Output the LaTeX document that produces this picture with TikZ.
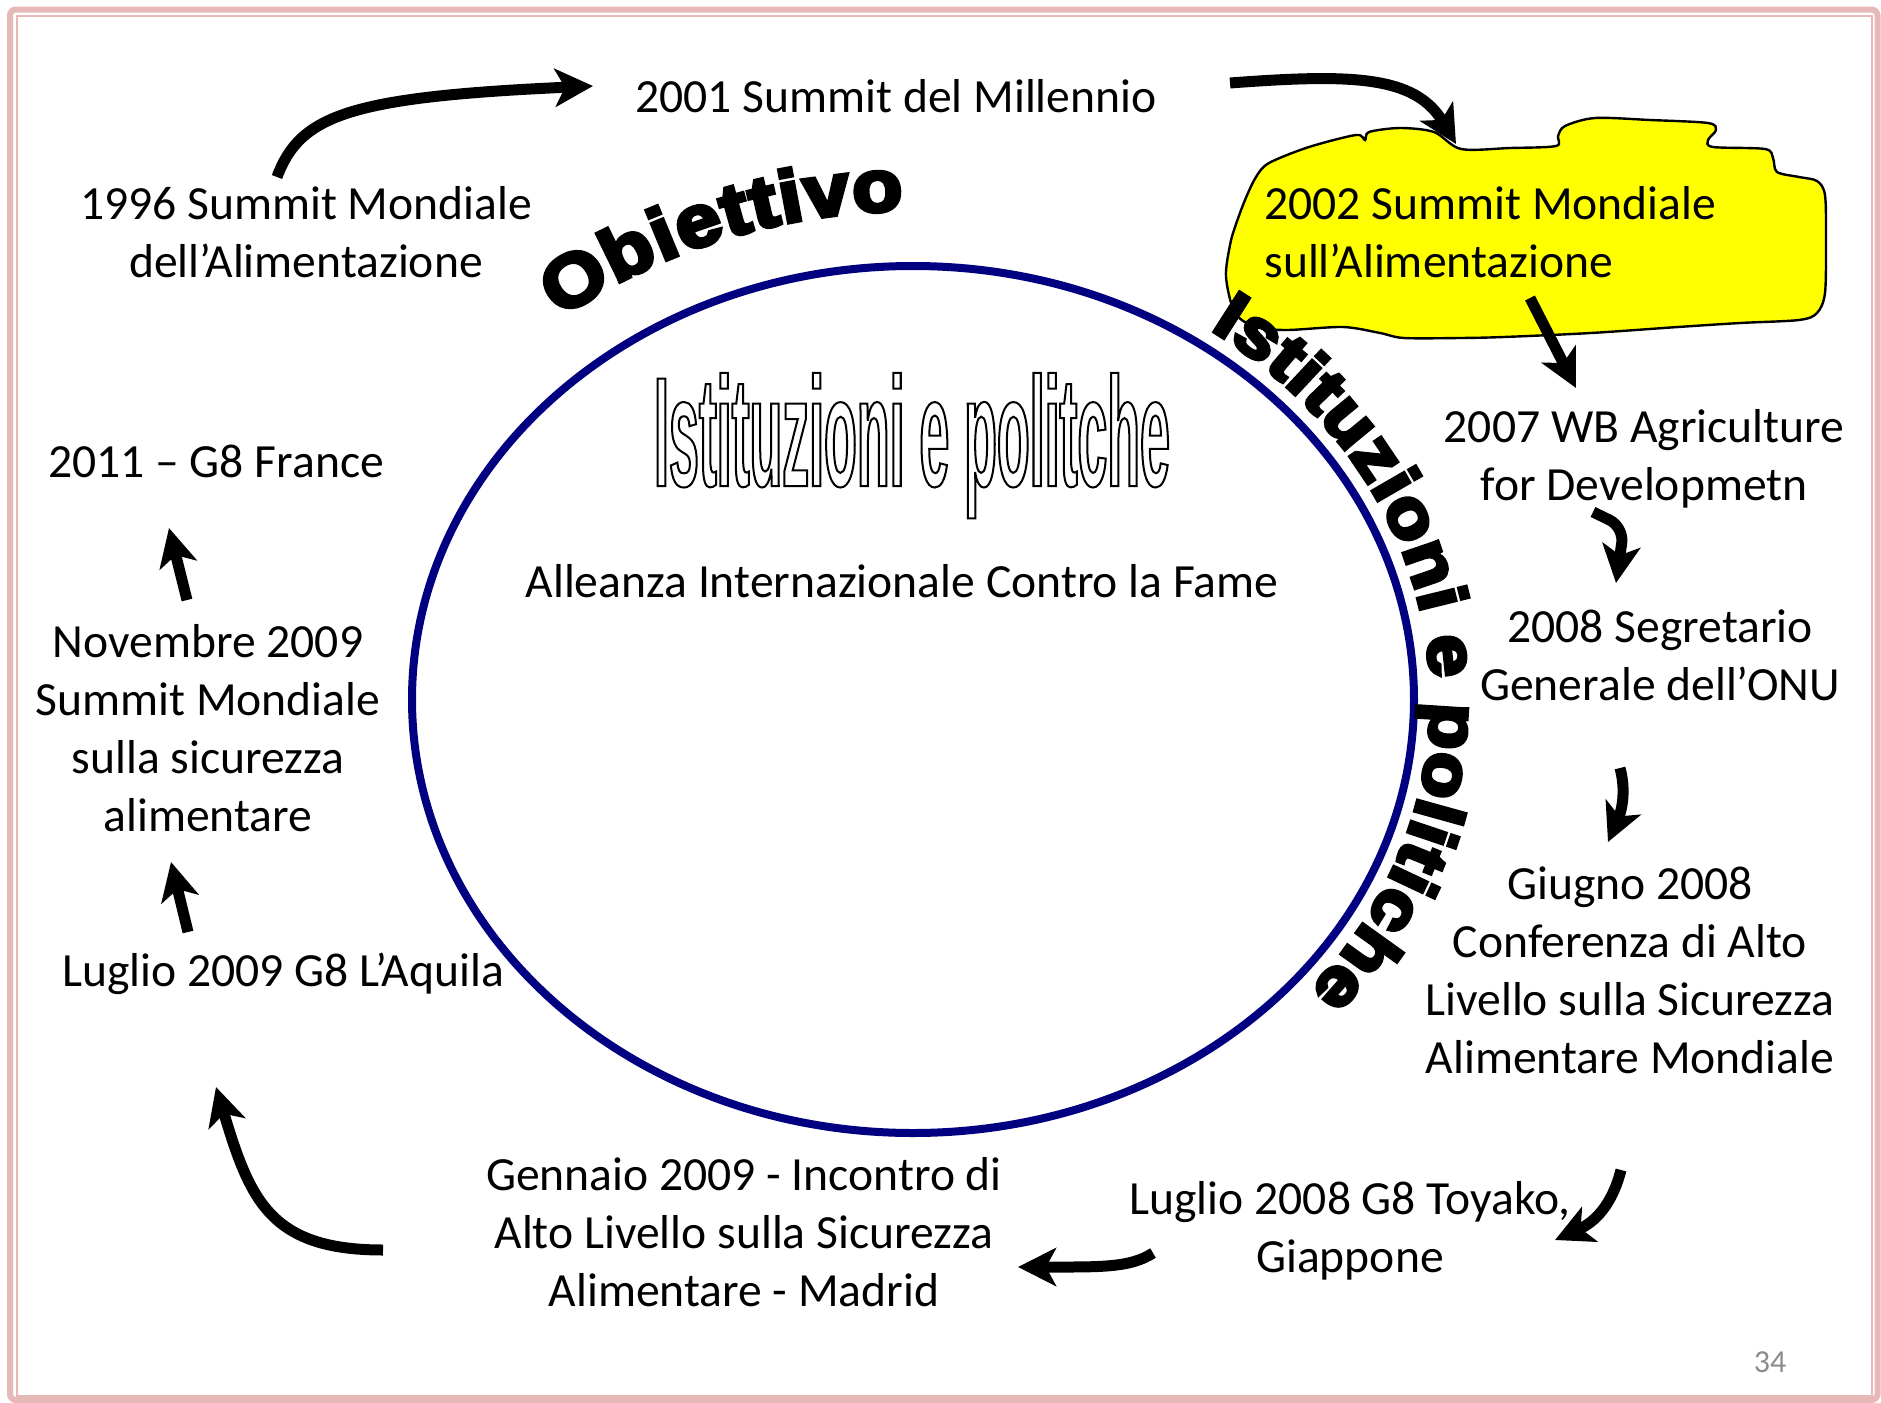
\documentclass[tikz,border=0pt]{standalone}
\usepackage{fontspec}
\setmainfont{Carlito}
\newfontfamily\curvefont{Liberation Sans}[FakeStretch=1.12, BoldFeatures={FakeBold=6}]
\newfontfamily\titlefont{Liberation Sans}[FakeStretch=0.344]
\usetikzlibrary{arrows.meta,decorations.text}
\definecolor{pinkb}{RGB}{230,185,184}
\definecolor{navyb}{RGB}{0,0,128}
\definecolor{pagegray}{RGB}{140,140,140}
\definecolor{cloudyellow}{RGB}{255,255,0}
\newcommand\outlinetext[1]{\special{pdf:literal direct 1 Tr 1 w}#1\special{pdf:literal direct 0 Tr 0.4 w}}
\begin{document}
\begin{tikzpicture}[x=0.5pt,y=-0.5pt,
  lbl/.style={font=\fontsize{23.8}{29}\selectfont, align=center, inner sep=0pt},
  bigarrow/.style={line width=5.5pt, -{Stealth[length=19pt,width=19pt,inset=5pt]}},
  bentarrow/.style={bigarrow, rounded corners=8pt},
  frameouter/.style={draw=pinkb, line width=3pt, rounded corners=3pt},
  frameinner/.style={draw=pinkb, line width=1pt},
  ring/.style={draw=navyb, line width=4pt},
  cloud/.style={draw=black, line width=1.2pt, fill=cloudyellow},
]
% canvas and bounding box
\fill[white] (0,0) rectangle (1881,1403);
\useasboundingbox (0,0) rectangle (1881,1403);

% slide frame
\path[frameouter] (10,9.5) rectangle (1877.5,1400);
\path[frameinner] (16.5,16) rectangle (1872,1396);

% central ellipse
\path[ring] (913,699.5) ellipse [x radius=501, y radius=433.5];

% yellow cloud
\path[cloud] plot[smooth cycle, tension=0.5] coordinates {
 (1461,149) (1510,148) (1556,146) (1558,136) (1565,126) (1595,118) (1650,120)
 (1708,123) (1716,130) (1708,140) (1713,147) (1765,149) (1773,158) (1777,172)
 (1799,177) (1817,181) (1825,195) (1826,240) (1825,293) (1817,313) (1799,320)
 (1740,323) (1678,327) (1591,333) (1504,337) (1460,338) (1404,338) (1380,333)
 (1343,327) (1287,330) (1256,327) (1235,313) (1226,277) (1230,245) (1235,227)
 (1245,200) (1256,177) (1269,163) (1309,147) (1356,135) (1365,140) (1369,132)
 (1400,128) (1434,132)};

% curved heavy captions
\path[decorate, decoration={text along path,
   text={|\curvefont\bfseries\fontsize{36.5}{36.5}\selectfont|Obiettivo},
   text align={fit to path}}]
  (560.3,318.4) arc[start angle=-128.8, end angle=-91, x radius=563, y radius=490];
\path[decorate, decoration={text along path,
   text={|\curvefont\bfseries\fontsize{34}{34}\selectfont|Istituzioni e politiche},
   text align={fit to path}}]
  (1210.1,329.2) arc[start angle=-55, end angle=40, x radius=518, y radius=452];

% outlined title
\node (title) [anchor=base, inner sep=0pt] at (912,486)
  {\titlefont\bfseries\fontsize{78}{78}\selectfont\outlinetext{Istituzioni e politche}};

% labels
\node[lbl] (n2001) at (896,96) {2001 Summit del Millennio};
\node[lbl] (n1996) at (306,232) {1996 Summit Mondiale\\dell’Alimentazione};
\node[lbl, align=left, anchor=west] (n2002) at (1264,232) {2002 Summit Mondiale\\sull’Alimentazione};
\node[lbl] (n2007) at (1644,459) {2007 WB Agriculture\\for Developmetn};
\node[lbl] (n2008) at (1660,655) {2008 Segretario\\Generale dell’ONU};
\node[lbl] (giugno) at (1630,970) {Giugno 2008\\Conferenza di Alto\\Livello sulla Sicurezza\\Alimentare Mondiale};
\node[lbl] (toyako) at (1350,1231) {Luglio 2008 G8 Toyako,\\Giappone};
\node[lbl] (gennaio) at (744,1232) {Gennaio 2009 - Incontro di\\Alto Livello sulla Sicurezza\\Alimentare - Madrid};
\node[lbl] (aquila) at (283,974) {Luglio 2009 G8 L’Aquila};
\node[lbl] (nov2009) at (208,728) {Novembre 2009\\Summit Mondiale\\sulla sicurezza\\alimentare};
\node[lbl] (g8fr) at (216,461) {2011 – G8 France};
\node[lbl] (alleanza) at (902,581) {Alleanza Internazionale Contro la Fame};
\node[inner sep=0pt, text=pagegray, font=\fontsize{16}{19}\selectfont] (pagenum) at (1770,1362) {34};

% arrow end points
\coordinate (a1s) at (277,177);   \coordinate (a1e) at (593,86);
\coordinate (a2s) at (1230,83);   \coordinate (a2e) at (1456,144);
\coordinate (a3s) at (1530,298);  \coordinate (a3e) at (1576,388);
\coordinate (a4s) at (1593,512);  \coordinate (a4e) at (1616,583);
\coordinate (a5s) at (1620,768);  \coordinate (a5e) at (1608,842);
\coordinate (a6s) at (1621,1170); \coordinate (a6e) at (1555,1240);
\coordinate (a7s) at (1153,1253); \coordinate (a7e) at (1018,1267);
\coordinate (a8s) at (383,1250);  \coordinate (a8e) at (216,1087);
\coordinate (a9s) at (188,932);   \coordinate (a9e) at (171,862);
\coordinate (a10s) at (187,600);  \coordinate (a10e) at (169,528);

% arrows
\draw[bigarrow] (a1s) .. controls (300,115) and (350,97) .. (a1e);
\draw[bigarrow] (a2s) .. controls (1350,74) and (1415,75) .. (a2e);
\draw[bigarrow] (a3s) -- (a3e);
\draw[bentarrow] (a4s) -- (1624,527) -- (a4e);
\draw[bigarrow] (a5s) .. controls (1626,790) and (1622,810) .. (a5e);
\draw[bigarrow] (a6s) .. controls (1612,1205) and (1595,1222) .. (a6e);
\draw[bigarrow] (a7s) .. controls (1130,1268) and (1100,1267) .. (a7e);
\draw[bigarrow] (a8s) .. controls (270,1250) and (250,1200) .. (a8e);
\draw[bigarrow] (a9s) -- (a9e);
\draw[bigarrow] (a10s) -- (a10e);
\end{tikzpicture}
\end{document}
